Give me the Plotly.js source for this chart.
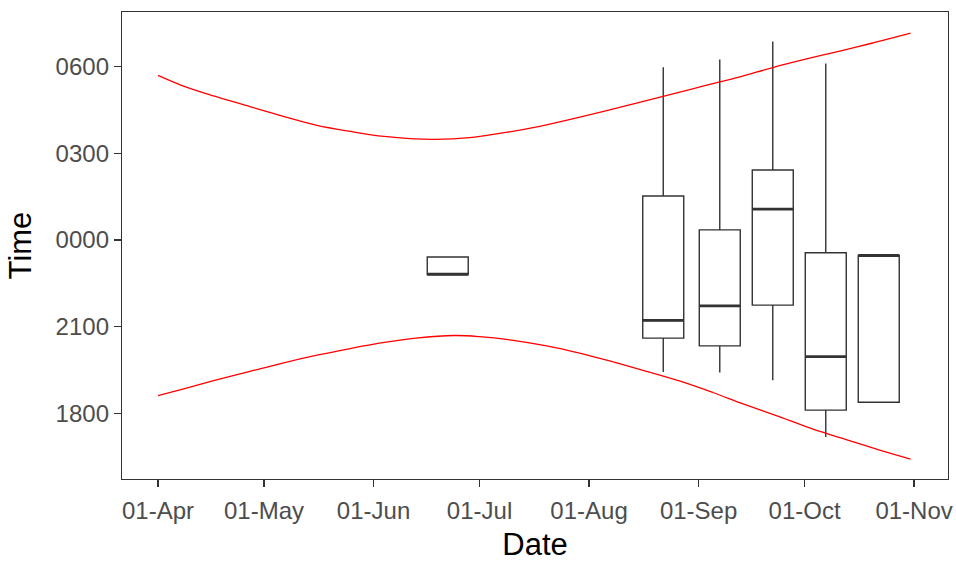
<!DOCTYPE html>
<html>
<head>
<meta charset="utf-8">
<script src="https://cdn.plot.ly/plotly-3.0.1.min.js"></script>
<style>
  html, body { margin: 0; padding: 0; background: #ffffff; }
  #chart { width: 956px; height: 562px; }
</style>
</head>
<body>
<div id="chart"></div>
<script>
// Times are in hours relative to midnight (negative = evening of the previous day).

// Upper boundary curve (morning)
const upperDates = ['2021-04-01','2021-04-08','2021-04-17','2021-04-27','2021-05-06','2021-05-16',
  '2021-05-25','2021-06-04','2021-06-18','2021-06-29','2021-07-09','2021-07-18','2021-07-27',
  '2021-08-06','2021-08-15','2021-08-25','2021-09-03','2021-09-13','2021-09-22','2021-10-01',
  '2021-10-11','2021-10-20','2021-10-31'];
const upperHours = [5.69, 5.33, 4.97, 4.61, 4.29, 3.96, 3.76, 3.58, 3.48, 3.55, 3.73, 3.93, 4.18,
  4.47, 4.75, 5.06, 5.34, 5.65, 5.96, 6.24, 6.53, 6.80, 7.15];

// Lower boundary curve (evening)
const lowerDates = ['2021-04-01','2021-04-08','2021-04-17','2021-04-27','2021-05-06','2021-05-16',
  '2021-05-25','2021-06-04','2021-06-13','2021-06-24','2021-07-01','2021-07-10','2021-07-20',
  '2021-07-29','2021-08-08','2021-08-17','2021-08-27','2021-09-05','2021-09-14','2021-09-24',
  '2021-10-03','2021-10-13','2021-10-22','2021-10-31'];
const lowerHours = [-5.38, -5.15, -4.85, -4.54, -4.26, -3.98, -3.76, -3.54, -3.39, -3.30, -3.34,
  -3.46, -3.66, -3.90, -4.22, -4.53, -4.89, -5.27, -5.68, -6.11, -6.52, -6.91, -7.25, -7.57];

// Box summaries per half-month bin
const boxDates  = ['2021-06-22','2021-08-22','2021-09-07','2021-09-22','2021-10-07','2021-10-22'];
const boxLower  = [-1.19, -4.56, -4.58, -4.85, -6.81, -5.61];
const boxQ1     = [-1.19, -3.39, -3.66, -2.25, -5.88, -5.61];
const boxMedian = [-1.19, -2.78, -2.28,  1.07, -4.03, -0.53];
const boxQ3     = [-0.59,  1.52,  0.35,  2.42, -0.44, -0.53];
const boxUpper  = [-0.59,  5.97,  6.24,  6.86,  6.10, -0.53];

// Axis ticks
const yTickVals = [-6, -3, 0, 3, 6];
const yTickText = ['1800', '2100', '0000', '0300', '0600'];
const xTickVals = ['2021-04-01','2021-05-01','2021-06-01','2021-07-01','2021-08-01',
  '2021-09-01','2021-10-01','2021-11-01'];

const DAY = 86400000;
const boxWidthDays = 11.6;

// Median bars drawn thicker across each box
const medX = [], medY = [];
boxDates.forEach((d, i) => {
  const c = new Date(d + 'T00:00:00Z').getTime();
  const half = boxWidthDays * DAY / 2;
  medX.push(new Date(c - half).toISOString(), new Date(c + half).toISOString(), null);
  medY.push(boxMedian[i], boxMedian[i], null);
});

const traces = [
  {
    type: 'scatter', mode: 'lines', x: upperDates, y: upperHours,
    line: { color: '#FF0000', width: 1.3, shape: 'spline', smoothing: 1 },
    hoverinfo: 'skip', showlegend: false
  },
  {
    type: 'scatter', mode: 'lines', x: lowerDates, y: lowerHours,
    line: { color: '#FF0000', width: 1.3, shape: 'spline', smoothing: 1 },
    hoverinfo: 'skip', showlegend: false
  },
  {
    type: 'box', x: boxDates,
    q1: boxQ1, median: boxMedian, q3: boxQ3,
    lowerfence: boxLower, upperfence: boxUpper,
    width: boxWidthDays * DAY,
    boxpoints: false, whiskerwidth: 0,
    fillcolor: 'rgba(255,255,255,1)',
    line: { color: '#333333', width: 1.4 },
    hoverinfo: 'skip', showlegend: false
  },
  {
    type: 'scatter', mode: 'lines', x: medX, y: medY,
    line: { color: '#333333', width: 2.8 },
    hoverinfo: 'skip', showlegend: false, connectgaps: false
  }
];

const layout = {
  width: 956, height: 562,
  margin: { l: 122, r: 8, t: 12, b: 83 },
  paper_bgcolor: '#ffffff', plot_bgcolor: '#ffffff',
  font: { family: 'Liberation Sans, Arial, sans-serif' },
  showlegend: false,
  xaxis: {
    type: 'date',
    range: ['2021-03-21 19:12', '2021-11-10 14:24'],
    tickvals: xTickVals, tickformat: '%d-%b',
    showgrid: false, zeroline: false,
    showline: true, mirror: true, linecolor: '#333333', linewidth: 1.2,
    ticks: 'outside', ticklen: 7, tickwidth: 1.2, tickcolor: '#333333',
    ticklabelstandoff: 3,
    tickfont: { size: 24, color: '#4D4D4D' },
    title: { text: 'Date', font: { size: 31, color: '#000000' }, standoff: 14 }
  },
  yaxis: {
    range: [-8.26, 7.88],
    tickvals: yTickVals, ticktext: yTickText,
    showgrid: false, zeroline: false,
    showline: true, mirror: true, linecolor: '#333333', linewidth: 1.2,
    ticks: 'outside', ticklen: 7, tickwidth: 1.2, tickcolor: '#333333',
    tickfont: { size: 24, color: '#4D4D4D' },
    title: { text: 'Time', font: { size: 31, color: '#000000' }, standoff: 14 }
  }
};

Plotly.newPlot('chart', traces, layout, { staticPlot: true, displayModeBar: false });
</script>
</body>
</html>
